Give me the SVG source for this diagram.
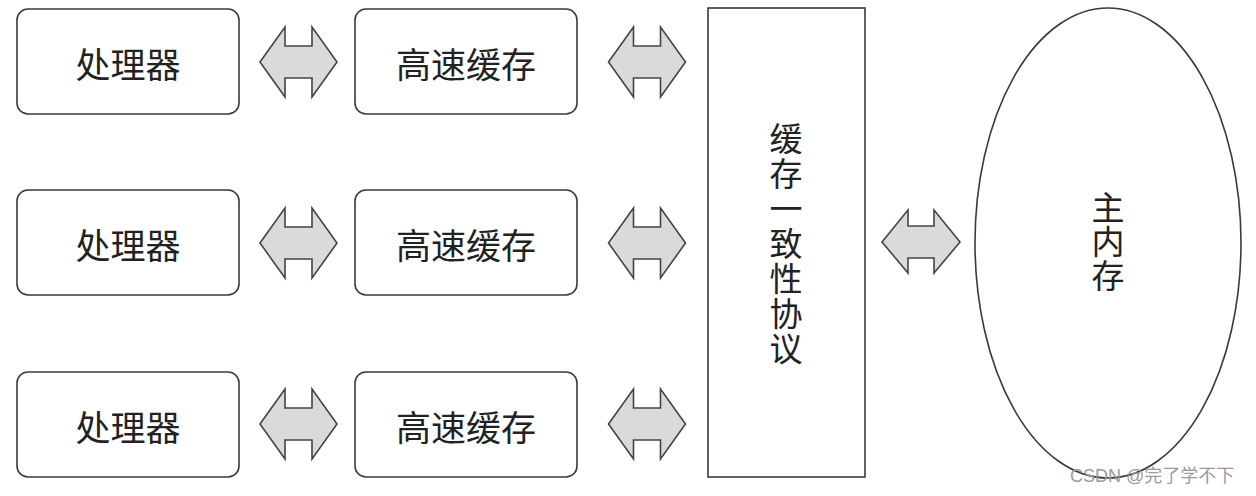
<svg xmlns="http://www.w3.org/2000/svg" xmlns:xlink="http://www.w3.org/1999/xlink" width="1256" height="496" viewBox="0 0 1256 496">
<style>
.box{fill:#fff;stroke:#3a3a3a;stroke-width:1.6}
.lbl{font-family:"Noto Sans CJK SC","Noto Sans",sans-serif;font-size:35px;fill:#222;text-anchor:middle;dominant-baseline:central}
.vl{font-size:33px;writing-mode:vertical-rl;text-orientation:upright}
.arr{fill:#dadada;stroke:#444;stroke-width:1.6;stroke-linejoin:miter}
.wm{font-family:"Liberation Sans","Noto Sans CJK SC",sans-serif;font-size:18px;fill:#9a9a9a}
</style>
<defs>
<path id="dbl" class="arr" d="M-38.5,0 L-13.5,-35 L-13.5,-16 L13.5,-16 L13.5,-35 L38.5,0 L13.5,35 L13.5,16 L-13.5,16 L-13.5,35 Z"/>
</defs>
<rect width="1256" height="496" fill="#fff"/>
<g id="cpu1"><rect class="box" x="17" y="9" width="222" height="105" rx="11"/><text class="lbl" x="128" y="62">处理器</text></g>
<g id="cpu2"><rect class="box" x="17" y="190" width="222" height="105" rx="11"/><text class="lbl" x="128" y="243">处理器</text></g>
<g id="cpu3"><rect class="box" x="17" y="372" width="222" height="105" rx="11"/><text class="lbl" x="128" y="425">处理器</text></g>
<g id="cache1"><rect class="box" x="355" y="9" width="222" height="105" rx="11"/><text class="lbl" x="466" y="62">高速缓存</text></g>
<g id="cache2"><rect class="box" x="355" y="190" width="222" height="105" rx="11"/><text class="lbl" x="466" y="243">高速缓存</text></g>
<g id="cache3"><rect class="box" x="355" y="372" width="222" height="105" rx="11"/><text class="lbl" x="466" y="425">高速缓存</text></g>
<g id="protocol"><rect class="box" x="708" y="8" width="157" height="469"/>
<text class="lbl vl" x="786" y="244" letter-spacing="2">缓存一致性协议</text></g>
<g id="memory"><ellipse class="box" cx="1108" cy="243" rx="133" ry="235"/>
<text class="lbl vl" x="1108" y="242" letter-spacing="1">主内存</text></g>
<g id="connectors">
<use xlink:href="#dbl" x="298.5" y="62"/>
<use xlink:href="#dbl" x="298.5" y="243"/>
<use xlink:href="#dbl" x="298.5" y="424"/>
<use xlink:href="#dbl" x="647" y="62"/>
<use xlink:href="#dbl" x="647" y="243"/>
<use xlink:href="#dbl" x="647" y="424"/>
<path class="arr" transform="translate(921,242)" d="M-39,0 L-13,-32 L-13,-16 L13,-16 L13,-32 L39,0 L13,31 L13,16 L-13,16 L-13,31 Z"/>
</g>
<text class="wm" x="1070" y="482">CSDN @完了学不下</text>
</svg>
